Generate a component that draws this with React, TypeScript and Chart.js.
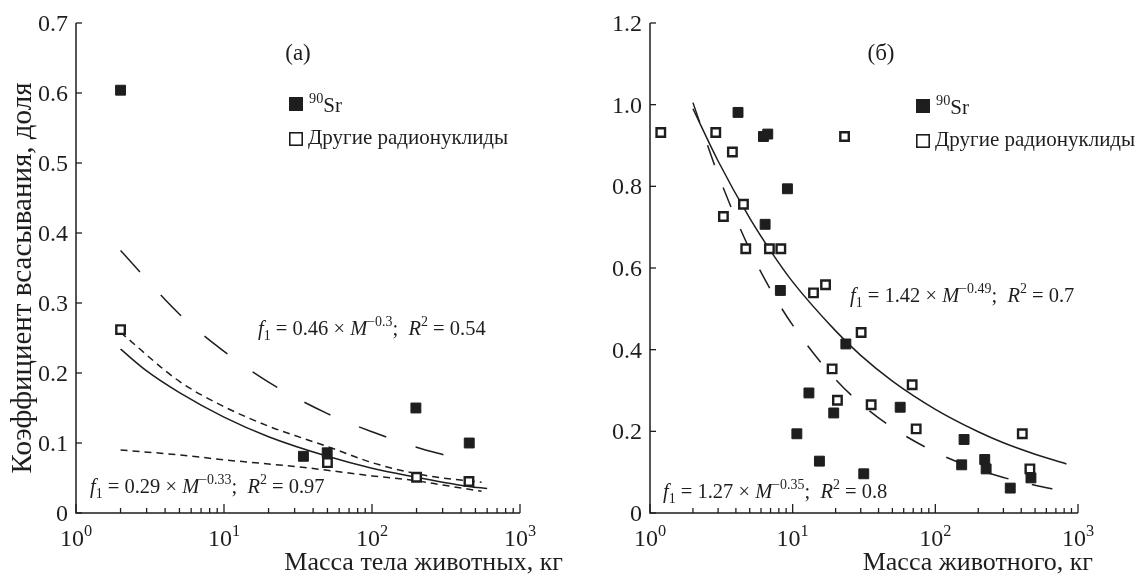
import React, { useEffect, useRef } from 'react';
import { Chart, registerables } from 'chart.js';

Chart.register(...registerables);

// ---------- Panel (а) ----------
const leftSrMass = [2, 34.4, 49.8, 198, 454];
const leftSrValue = [0.604, 0.081, 0.086, 0.15, 0.1];
const leftOtherMass = [2, 50, 200, 452];
const leftOtherValue = [0.262, 0.072, 0.051, 0.045];
// long-dash fit (0.46·M^-0.3)
const leftFitAMass = [2, 5, 10, 20, 50, 100, 200, 330];
const leftFitAValue = [0.375, 0.284, 0.231, 0.187, 0.142, 0.116, 0.094, 0.081];
// solid fit (0.29·M^-0.33)
const leftFitBMass = [2, 3, 5, 10, 20, 50, 100, 200, 300, 450, 600];
const leftFitBValue = [0.234, 0.203, 0.172, 0.137, 0.109, 0.081, 0.064, 0.051, 0.044, 0.038, 0.035];
// short-dash band, upper and lower
const leftUpperMass = [2, 5, 10, 20, 35, 50, 100, 200, 300, 550];
const leftUpperValue = [0.258, 0.188, 0.152, 0.124, 0.106, 0.095, 0.072, 0.056, 0.05, 0.044];
const leftLowerMass = [2, 5, 10, 20, 35, 50, 100, 200, 300, 550];
const leftLowerValue = [0.09, 0.083, 0.076, 0.07, 0.065, 0.061, 0.053, 0.046, 0.04, 0.031];

// ---------- Panel (б) ----------
const rightSrMass = [4.14, 6.24, 6.69, 9.19, 6.41, 8.2, 23.6, 13.0, 19.4, 10.7, 15.4, 31.5, 56.7, 159, 153, 222, 227, 335, 468];
const rightSrValue = [0.981, 0.922, 0.928, 0.794, 0.707, 0.545, 0.414, 0.294, 0.245, 0.194, 0.127, 0.096, 0.259, 0.18, 0.118, 0.131, 0.108, 0.061, 0.086];
const rightOtherMass = [1.19, 2.89, 3.78, 23.1, 4.52, 3.27, 4.69, 6.87, 8.26, 14.0, 17.0, 30.2, 18.9, 20.6, 35.5, 68.8, 73.4, 407, 460];
const rightOtherValue = [0.932, 0.932, 0.884, 0.922, 0.756, 0.726, 0.647, 0.647, 0.647, 0.539, 0.559, 0.442, 0.353, 0.276, 0.265, 0.314, 0.206, 0.194, 0.108];
// solid fit
const rightSolidMass = [2, 3, 5, 7, 10, 20, 30, 50, 100, 200, 300, 500, 830];
const rightSolidValue = [0.99, 0.862, 0.722, 0.642, 0.566, 0.446, 0.386, 0.323, 0.254, 0.199, 0.172, 0.144, 0.12];
// dashed fit
const rightDashMass = [2, 3, 5, 7, 10, 20, 30, 50, 100, 200, 300, 500, 750];
const rightDashValue = [1.005, 0.829, 0.645, 0.547, 0.46, 0.327, 0.268, 0.209, 0.149, 0.106, 0.087, 0.068, 0.055];

// ---------- Axes ----------
const xTickValues = [1, 10, 100, 1000];
const xTickExponents = ['0', '1', '2', '3'];
const leftYTicks = [0, 0.1, 0.2, 0.3, 0.4, 0.5, 0.6, 0.7];
const leftYLabels = ['0', '0.1', '0.2', '0.3', '0.4', '0.5', '0.6', '0.7'];
const rightYTicks = [0, 0.2, 0.4, 0.6, 0.8, 1.0, 1.2];
const rightYLabels = ['0', '0.2', '0.4', '0.6', '0.8', '1.0', '1.2'];

const yTitle = 'Коэффициент всасывания, доля';
const leftXTitle = 'Масса тела животных, кг';
const rightXTitle = 'Масса животного, кг';
const legendSr = '90';
const legendSrTail = 'Sr';
const legendOther = 'Другие радионуклиды';

type Part = { t: string; i?: boolean; sup?: boolean; sub?: boolean };

const leftEqUpper: Part[] = [
  { t: 'f', i: true }, { t: '1', sub: true }, { t: ' = 0.46 × ' }, { t: 'M', i: true },
  { t: '−0.3', sup: true }, { t: ';  ' }, { t: 'R', i: true }, { t: '2', sup: true }, { t: ' = 0.54' },
];
const leftEqLower: Part[] = [
  { t: 'f', i: true }, { t: '1', sub: true }, { t: ' = 0.29 × ' }, { t: 'M', i: true },
  { t: '−0.33', sup: true }, { t: ';  ' }, { t: 'R', i: true }, { t: '2', sup: true }, { t: ' = 0.97' },
];
const rightEqUpper: Part[] = [
  { t: 'f', i: true }, { t: '1', sub: true }, { t: ' = 1.42 × ' }, { t: 'M', i: true },
  { t: '−0.49', sup: true }, { t: ';  ' }, { t: 'R', i: true }, { t: '2', sup: true }, { t: ' = 0.7' },
];
const rightEqLower: Part[] = [
  { t: 'f', i: true }, { t: '1', sub: true }, { t: ' = 1.27 × ' }, { t: 'M', i: true },
  { t: '−0.35', sup: true }, { t: ';  ' }, { t: 'R', i: true }, { t: '2', sup: true }, { t: ' = 0.8' },
];

const INK = '#1e1e1e';
const FAMILY = "'Liberation Serif', 'Times New Roman', serif";

const pts = (xs: number[], ys: number[]) => xs.map((x, k) => ({ x, y: ys[k] }));

function richWidth(ctx: CanvasRenderingContext2D, parts: Part[], size: number) {
  let w = 0;
  for (const p of parts) {
    const s = p.sup || p.sub ? size * 0.68 : size;
    ctx.font = `${p.i ? 'italic ' : ''}${s}px ${FAMILY}`;
    w += ctx.measureText(p.t).width;
  }
  return w;
}

function drawRich(ctx: CanvasRenderingContext2D, x: number, y: number, parts: Part[], size: number) {
  let cx = x;
  ctx.textAlign = 'left';
  ctx.textBaseline = 'alphabetic';
  for (const p of parts) {
    const s = p.sup || p.sub ? size * 0.68 : size;
    ctx.font = `${p.i ? 'italic ' : ''}${s}px ${FAMILY}`;
    const dy = p.sup ? -size * 0.42 : p.sub ? size * 0.26 : 0;
    ctx.fillText(p.t, cx, y + dy);
    cx += ctx.measureText(p.t).width;
  }
}

type PanelCfg = {
  yTicks: number[];
  yLabels: string[];
  xTitle: string;
  xTitleRight: number;
  showYTitle: boolean;
  panelLabel: string;
  panelLabelX: number;
  legendX: number;
  legendY: number;
  eqs: { x: number; y: number; parts: Part[] }[];
};

function makePlugin(cfg: PanelCfg) {
  return {
    id: 'decor',
    afterDraw(chart: any) {
      const ctx: CanvasRenderingContext2D = chart.ctx;
      const xs = chart.scales.x;
      const ys = chart.scales.y;
      const { left, right, top, bottom } = chart.chartArea;
      ctx.save();
      ctx.strokeStyle = INK;
      ctx.fillStyle = INK;
      ctx.lineWidth = 1.5;
      ctx.beginPath();
      ctx.moveTo(left, top);
      ctx.lineTo(left, bottom);
      ctx.lineTo(right, bottom);
      ctx.stroke();

      // y ticks (inward)
      ctx.lineWidth = 1.3;
      cfg.yTicks.forEach((v, k) => {
        const py = ys.getPixelForValue(v);
        ctx.beginPath();
        ctx.moveTo(left, py);
        ctx.lineTo(left + 6, py);
        ctx.stroke();
        ctx.font = `24px ${FAMILY}`;
        ctx.textAlign = 'right';
        ctx.textBaseline = 'alphabetic';
        ctx.fillText(cfg.yLabels[k], left - 8, py + 8);
      });

      // x ticks (inward), major and minor
      for (let d = 0; d < xTickValues.length; d++) {
        const base = xTickValues[d];
        const px = xs.getPixelForValue(base);
        ctx.beginPath();
        ctx.moveTo(px, bottom);
        ctx.lineTo(px, bottom - 9);
        ctx.stroke();
        if (d < xTickValues.length - 1) {
          for (let m = 2; m <= 9; m++) {
            const mx = xs.getPixelForValue(base * m);
            ctx.beginPath();
            ctx.moveTo(mx, bottom);
            ctx.lineTo(mx, bottom - 5);
            ctx.stroke();
          }
        }
        const parts: Part[] = [{ t: '10' }, { t: xTickExponents[d], sup: true }];
        const w = richWidth(ctx, parts, 24);
        drawRich(ctx, px - w / 2, bottom + 33, parts, 24);
      }

      // x title
      ctx.font = `26px ${FAMILY}`;
      ctx.textAlign = 'right';
      ctx.textBaseline = 'alphabetic';
      ctx.fillText(cfg.xTitle, cfg.xTitleRight, 570);

      // y title
      if (cfg.showYTitle) {
        ctx.save();
        ctx.translate(31, 278);
        ctx.rotate(-Math.PI / 2);
        ctx.font = `29px ${FAMILY}`;
        ctx.textAlign = 'center';
        ctx.textBaseline = 'alphabetic';
        ctx.fillText(yTitle, 0, 0);
        ctx.restore();
      }

      // panel label
      ctx.font = `23px ${FAMILY}`;
      ctx.textAlign = 'center';
      ctx.fillText(cfg.panelLabel, cfg.panelLabelX, 60);

      // legend
      const lx = cfg.legendX;
      const ly = cfg.legendY;
      ctx.fillRect(lx, ly, 14, 14);
      drawRich(ctx, lx + 20, ly + 15, [{ t: legendSr, sup: true }, { t: legendSrTail }], 21);
      ctx.lineWidth = 1.6;
      ctx.strokeRect(lx + 0.8, ly + 35.8, 12.4, 12.4);
      ctx.font = `21px ${FAMILY}`;
      ctx.textAlign = 'left';
      ctx.fillText(legendOther, lx + 19, ly + 47);

      // equations
      cfg.eqs.forEach((e) => drawRich(ctx, e.x, e.y, e.parts, 20.5));
      ctx.restore();
    },
  };
}

function lineDs(xs: number[], ys: number[], dash: number[]) {
  return {
    data: pts(xs, ys),
    showLine: true,
    pointRadius: 0,
    borderColor: INK,
    borderWidth: 1.5,
    borderDash: dash,
    fill: false,
    cubicInterpolationMode: 'monotone' as const,
    order: 2,
  };
}

function filledDs(xs: number[], ys: number[]) {
  return {
    data: pts(xs, ys),
    pointStyle: 'rect' as const,
    pointRadius: 7,
    backgroundColor: INK,
    borderColor: INK,
    borderWidth: 1,
    showLine: false,
    order: 1,
  };
}

function openDs(xs: number[], ys: number[]) {
  return {
    data: pts(xs, ys),
    pointStyle: 'rect' as const,
    pointRadius: 6,
    backgroundColor: '#ffffff',
    borderColor: INK,
    borderWidth: 2.4,
    showLine: false,
    order: 0,
  };
}

function buildConfig(datasets: any[], yMax: number, padding: any, cfg: PanelCfg) {
  return {
    type: 'scatter' as const,
    data: { datasets },
    options: {
      animation: false as const,
      responsive: false,
      maintainAspectRatio: false,
      events: [],
      layout: { padding },
      plugins: { legend: { display: false }, tooltip: { enabled: false } },
      scales: {
        x: { type: 'logarithmic' as const, min: 1, max: 1000, display: false },
        y: { type: 'linear' as const, min: 0, max: yMax, display: false },
      },
    },
    plugins: [makePlugin(cfg)],
  };
}

export default function App() {
  const leftRef = useRef<HTMLCanvasElement>(null);
  const rightRef = useRef<HTMLCanvasElement>(null);

  useEffect(() => {
    const leftCfg: PanelCfg = {
      yTicks: leftYTicks,
      yLabels: leftYLabels,
      xTitle: leftXTitle,
      xTitleRight: 563,
      showYTitle: true,
      panelLabel: '(а)',
      panelLabelX: 298,
      legendX: 289,
      legendY: 97,
      eqs: [
        { x: 258, y: 335, parts: leftEqUpper },
        { x: 90, y: 493, parts: leftEqLower },
      ],
    };
    const rightCfg: PanelCfg = {
      yTicks: rightYTicks,
      yLabels: rightYLabels,
      xTitle: rightXTitle,
      xTitleRight: 521,
      showYTitle: false,
      panelLabel: '(б)',
      panelLabelX: 309,
      legendX: 344,
      legendY: 99,
      eqs: [
        { x: 278, y: 302, parts: rightEqUpper },
        { x: 91, y: 498, parts: rightEqLower },
      ],
    };
    const left = new Chart(
      leftRef.current!,
      buildConfig(
        [
          lineDs(leftFitAMass, leftFitAValue, [29, 31]),
          lineDs(leftFitBMass, leftFitBValue, []),
          lineDs(leftUpperMass, leftUpperValue, [7, 5]),
          lineDs(leftLowerMass, leftLowerValue, [7, 5]),
          filledDs(leftSrMass, leftSrValue),
          openDs(leftOtherMass, leftOtherValue),
        ],
        0.7,
        { left: 76, right: 52, top: 23, bottom: 63 },
        leftCfg,
      ) as any,
    );
    const right = new Chart(
      rightRef.current!,
      buildConfig(
        [
          lineDs(rightSolidMass, rightSolidValue, []),
          lineDs(rightDashMass, rightDashValue, [21, 24]),
          filledDs(rightSrMass, rightSrValue),
          openDs(rightOtherMass, rightOtherValue),
        ],
        1.2,
        { left: 78, right: 66, top: 23, bottom: 63 },
        rightCfg,
      ) as any,
    );
    return () => {
      left.destroy();
      right.destroy();
    };
  }, []);

  return (
    <div style={{ position: 'absolute', left: 0, top: 0, width: 1144, height: 576, background: '#fff', overflow: 'hidden' }}>
      <canvas ref={leftRef} width={572} height={576} style={{ position: 'absolute', left: 0, top: 0 }} />
      <canvas ref={rightRef} width={572} height={576} style={{ position: 'absolute', left: 572, top: 0 }} />
    </div>
  );
}
